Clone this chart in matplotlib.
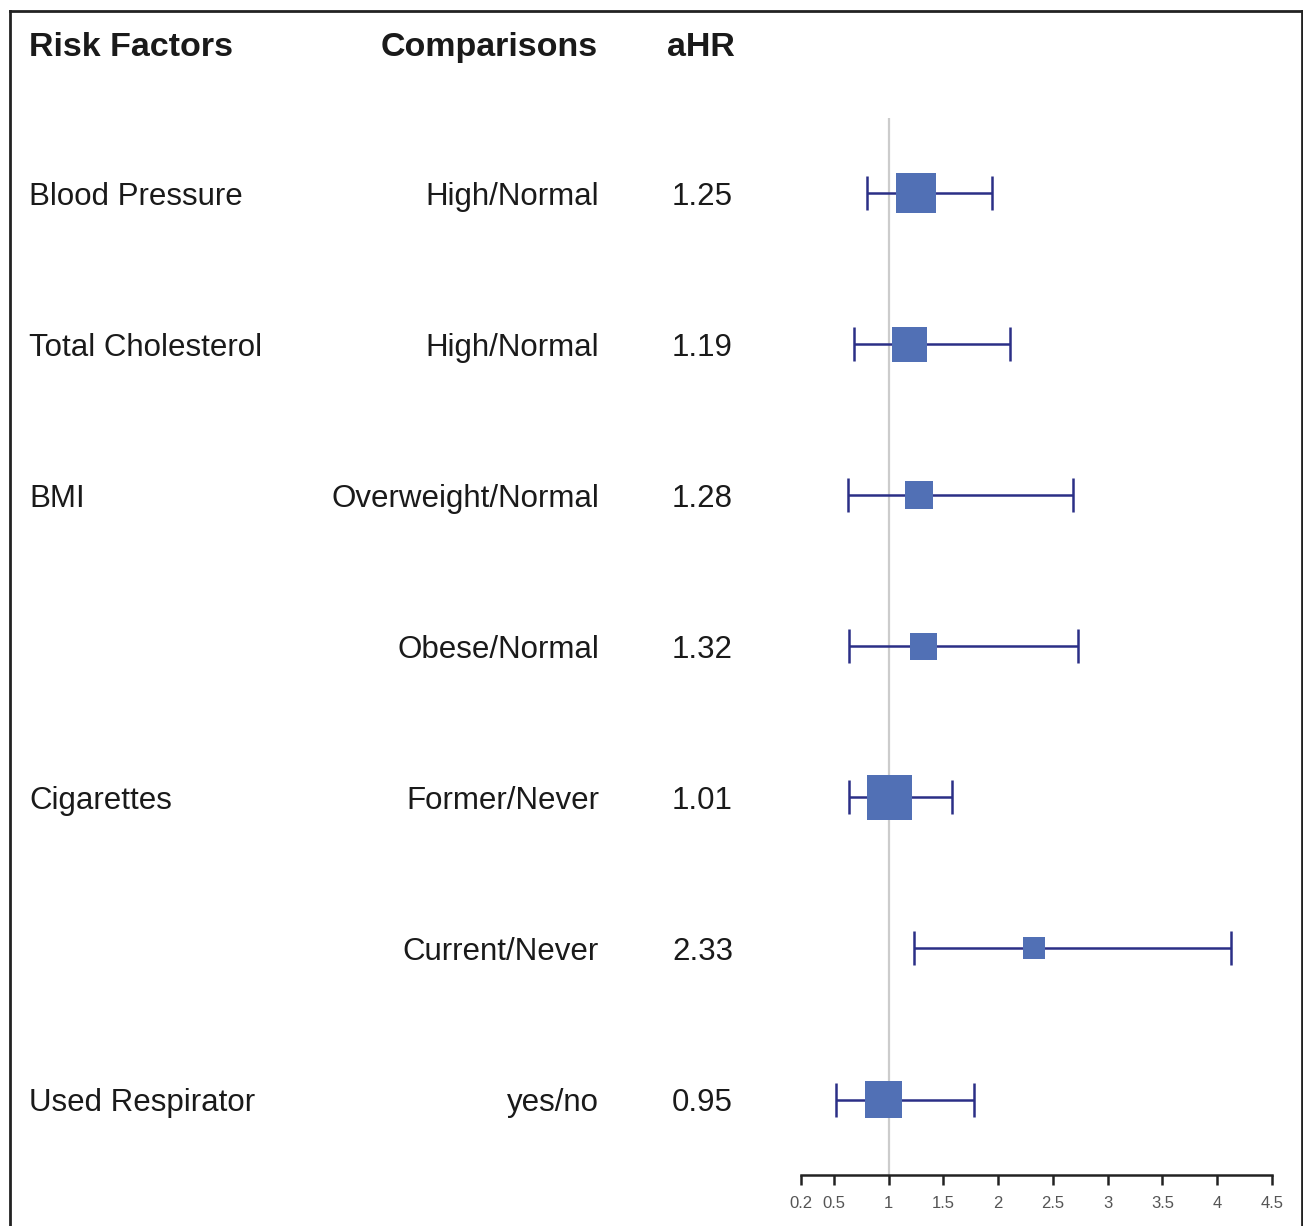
import matplotlib
matplotlib.use("Agg")
import matplotlib.pyplot as plt
from matplotlib.transforms import blended_transform_factory
from matplotlib.lines import Line2D

plt.rcParams['font.family'] = ['Liberation Sans', 'DejaVu Sans']

# ---- data ----
risk_factors = ["Blood Pressure", "Total Cholesterol", "BMI", "", "Cigarettes", "", "Used Respirator"]
comparisons = ["High/Normal", "High/Normal", "Overweight/Normal", "Obese/Normal",
               "Former/Never", "Current/Never", "yes/no"]
ahr = [1.25, 1.19, 1.28, 1.32, 1.01, 2.33, 0.95]
ci_low = [0.80, 0.68, 0.63, 0.64, 0.64, 1.23, 0.52]
ci_high = [1.94, 2.11, 2.68, 2.73, 1.58, 4.13, 1.78]
weights = [40, 35, 28, 27, 45, 22, 37]   # relative box sizes
xticks = [0.2, 0.5, 1, 1.5, 2, 2.5, 3, 3.5, 4, 4.5]
xticklabels = ["0.2", "0.5", "1", "1.5", "2", "2.5", "3", "3.5", "4", "4.5"]
headers = ["Risk Factors", "Comparisons", "aHR"]

W, H = 1303, 1226
fig = plt.figure(figsize=(W / 100, H / 100), dpi=100)

ax_left, ax_right = 801, 1272
ax_top, ax_bottom = 118, 1175
ax = fig.add_axes([ax_left / W, 1 - ax_bottom / H, (ax_right - ax_left) / W, (ax_bottom - ax_top) / H])
ax.set_xlim(0.2, 4.5)
n = len(ahr)
ax.set_ylim(n - 0.5, -0.5)

line_col = "#2B2F86"
box_col = "#5170B5"

ax.axvline(1, color="#cccccc", lw=1.6, zorder=0)
ys = list(range(n))
ax.errorbar(ahr, ys, xerr=[[a - l for a, l in zip(ahr, ci_low)], [h - a for a, h in zip(ahr, ci_high)]],
            fmt="none", ecolor=line_col, elinewidth=1.8, capsize=12, capthick=1.8, zorder=2)
ax.scatter(ahr, ys, marker="s", s=[(w * 0.72) ** 2 for w in weights], color=box_col,
           edgecolors="none", zorder=3)

for s in ["top", "right", "left"]:
    ax.spines[s].set_visible(False)
ax.spines["bottom"].set_linewidth(1.8)
ax.spines["bottom"].set_color("#222222")
ax.set_yticks([])
ax.set_xticks(xticks)
ax.set_xticklabels(xticklabels)
ax.tick_params(axis="x", length=7, width=1.8, color="#222222", labelsize=12,
               labelcolor="#555555", pad=8)

# ---- text columns ----
tr = blended_transform_factory(fig.transFigure, ax.transData)
fs = 22.5
hfs = 24.5
txt_col = "#1a1a1a"
for i in range(n):
    if risk_factors[i]:
        ax.text(29 / W, i, risk_factors[i], transform=tr, ha="left", va="center_baseline",
                fontsize=fs, color=txt_col, clip_on=False)
    ax.text(599 / W, i, comparisons[i], transform=tr, ha="right", va="center_baseline",
            fontsize=fs, color=txt_col, clip_on=False)
    ax.text(733 / W, i, f"{ahr[i]:.2f}", transform=tr, ha="right", va="center_baseline",
            fontsize=fs, color=txt_col, clip_on=False)

hy = 1 - 44 / H
fig.text(29 / W, hy, headers[0], ha="left", va="center_baseline", fontsize=hfs, fontweight="bold", color=txt_col)
fig.text(598 / W, hy, headers[1], ha="right", va="center_baseline", fontsize=hfs, fontweight="bold", color=txt_col)
fig.text(735 / W, hy, headers[2], ha="right", va="center_baseline", fontsize=hfs, fontweight="bold", color=txt_col)

# ---- frame ----
bx0, bx1, by0 = 10 / W, 1302 / W, 1 - 11 / H
frame_kw = dict(color="#222222", lw=2, transform=fig.transFigure)
fig.add_artist(Line2D([bx0, bx0], [0, by0], **frame_kw))
fig.add_artist(Line2D([bx0, bx1], [by0, by0], **frame_kw))
fig.add_artist(Line2D([bx1, bx1], [0, by0], **frame_kw))

fig.savefig("out.png", dpi=100, facecolor="white")
